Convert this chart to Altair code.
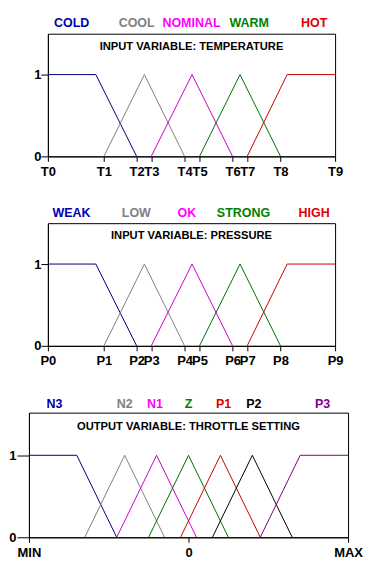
import altair as alt
import pandas as pd

FONT = "Liberation Sans"
AXFONT = "'Liberation Sans Narrow', 'Liberation Sans'"

# ---------------- Panel 1: temperature ----------------
temp_title = "INPUT VARIABLE: TEMPERATURE"
temp_tick_names = ["T0", "T1", "T2", "T3", "T4", "T5", "T6", "T7", "T8", "T9"]
temp_tick_vals = [0, 19.5, 30.9, 36.0, 47.6, 52.8, 64.3, 69.4, 81.0, 100]
temp_sets = ["COLD", "COOL", "NOMINAL", "WARM", "HOT"]
temp_x = [[0, 16.7, 30.9], [19.5, 33.6, 47.6], [36.0, 50.2, 64.3], [52.8, 66.9, 81.0], [69.4, 83.3, 100]]
temp_y = [[1, 1, 0], [0, 1, 0], [0, 1, 0], [0, 1, 0], [0, 1, 1]]
temp_label_x = [8.3, 30.9, 50.0, 70.1, 92.7]

# ---------------- Panel 2: pressure ----------------
pres_title = "INPUT VARIABLE:  PRESSURE"
pres_tick_names = ["P0", "P1", "P2", "P3", "P4", "P5", "P6", "P7", "P8", "P9"]
pres_tick_vals = [0, 19.5, 30.9, 36.0, 47.6, 52.8, 64.3, 69.4, 81.0, 100]
pres_sets = ["WEAK", "LOW", "OK", "STRONG", "HIGH"]
pres_x = [[0, 16.7, 30.9], [19.5, 33.6, 47.6], [36.0, 50.2, 64.3], [52.8, 66.9, 81.0], [69.4, 83.3, 100]]
pres_y = [[1, 1, 0], [0, 1, 0], [0, 1, 0], [0, 1, 0], [0, 1, 1]]
pres_label_x = [8.2, 30.8, 48.4, 68.1, 92.7]

# ---------------- Panel 3: throttle ----------------
thr_title = "OUTPUT VARIABLE:  THROTTLE SETTING"
thr_tick_names = ["MIN", "0", "MAX"]
thr_tick_vals = [-1, 0, 1]
thr_sets = ["N3", "N2", "N1", "Z", "P1", "P2", "P3"]
thr_x = [[-1, -0.7, -0.45], [-0.65, -0.4, -0.15], [-0.45, -0.2, 0.05], [-0.25, 0, 0.25],
         [-0.05, 0.2, 0.45], [0.15, 0.4, 0.65], [0.45, 0.7, 1]]
thr_y = [[1, 1, 0], [0, 1, 0], [0, 1, 0], [0, 1, 0], [0, 1, 0], [0, 1, 0], [0, 1, 1]]
thr_label_x = [-0.84, -0.4, -0.21, 0, 0.22, 0.41, 0.84]

five_line = ["#000080", "#808080", "#CC00CC", "#006F00", "#CC0000"]
five_text = ["#0000B0", "#808080", "#FF00FF", "#007F00", "#E00000"]
seven_line = ["#000080", "#808080", "#CC00CC", "#006F00", "#CC0000", "#000000", "#800080"]
seven_text = ["#0000A0", "#808080", "#FF00FF", "#007F00", "#E00000", "#000000", "#800080"]

LABEL_Y = 1.63
TITLE_Y = 1.34


def panel(title, tick_names, tick_vals, sets, xs, ys, label_x, lcols, tcols,
          width, height, ymax, ytick, ypad, yext, xdom):
    rows = []
    for s, xx, yy in zip(sets, xs, ys):
        for i, (a, b) in enumerate(zip(xx, yy)):
            rows.append({"set": s, "x": a, "y": b, "o": i})
    lines_df = pd.DataFrame(rows)
    lab_df = pd.DataFrame({"set": sets, "x": label_x, "y": [LABEL_Y] * len(sets)})
    ttl_df = pd.DataFrame({"t": [title], "x": [(xdom[0] + xdom[1]) / 2], "y": [TITLE_Y]})

    names_js = "[" + ",".join("'%s'" % n for n in tick_names) + "]"
    vals_js = "[" + ",".join(repr(v) for v in tick_vals) + "]"
    xenc = alt.X("x:Q", scale=alt.Scale(domain=xdom, nice=False, zero=False),
                 axis=alt.Axis(values=tick_vals, labelExpr=names_js + "[indexof(" + vals_js + ", datum.value)]",
                               tickSize=5, labelPadding=4, labelFlush=False, labelOverlap=False,
                               labelFont=AXFONT, title=None, grid=False))
    yenc = alt.Y("y:Q", scale=alt.Scale(domain=[0, ymax], nice=False),
                 axis=alt.Axis(values=[0, 1], format="d", tickSize=ytick, labelPadding=ypad,
                               minExtent=yext, maxExtent=yext, title=None, grid=False))

    lines = alt.Chart(lines_df).mark_line(strokeWidth=1, clip=False).encode(
        x=xenc, y=yenc,
        color=alt.Color("set:N", scale=alt.Scale(domain=sets, range=lcols), legend=None),
        detail="set:N", order="o:Q")
    labs = alt.Chart(lab_df).mark_text(font=FONT, fontWeight="bold", fontSize=12.5,
                                        baseline="middle").encode(
        x=xenc, y=yenc, text="set:N",
        color=alt.Color("set:N", scale=alt.Scale(domain=sets, range=tcols), legend=None))
    ttl = alt.Chart(ttl_df).mark_text(font=FONT, fontWeight="bold", fontSize=11.2,
                                       baseline="middle", color="black").encode(
        x=xenc, y=yenc, text="t:N")
    return alt.layer(lines, labs, ttl).resolve_scale(color="independent").properties(
        width=width, height=height)


def spacer(w, h):
    return alt.Chart(pd.DataFrame({"a": [0]})).mark_point(opacity=0).properties(
        width=w, height=h, view=alt.ViewBackground(stroke=None))


p1 = panel(temp_title, temp_tick_names, temp_tick_vals, temp_sets, temp_x, temp_y, temp_label_x,
           five_line, five_text, 288, 123, 1.5, 7, 0, 14, [0, 100])
p2 = panel(pres_title, pres_tick_names, pres_tick_vals, pres_sets, pres_x, pres_y, pres_label_x,
           five_line, five_text, 288, 123, 1.5, 7, 0, 14, [0, 100])
p3 = panel(thr_title, thr_tick_names, thr_tick_vals, thr_sets, thr_x, thr_y, thr_label_x,
           seven_line, seven_text, 320, 125, 1.52, 12, 1, 20, [-1, 1])

row1 = alt.hconcat(spacer(1, 123), p1, spacing=0)
row2 = alt.hconcat(spacer(1, 123), p2, spacing=0)

top = alt.vconcat(row1, row2, spacing=26)
chart = alt.vconcat(top, p3, spacing=28).properties(
    padding={"left": 0, "top": 7, "right": 2, "bottom": 2}, background="white"
).configure_view(stroke="black", strokeWidth=1).configure_axis(
    labelFont=FONT, labelFontWeight="bold", labelFontSize=13, labelColor="black",
    domainColor="black", tickColor="black", domainWidth=1, tickWidth=1
)

chart.save("out.html", embed_options={"renderer": "svg", "actions": False})
